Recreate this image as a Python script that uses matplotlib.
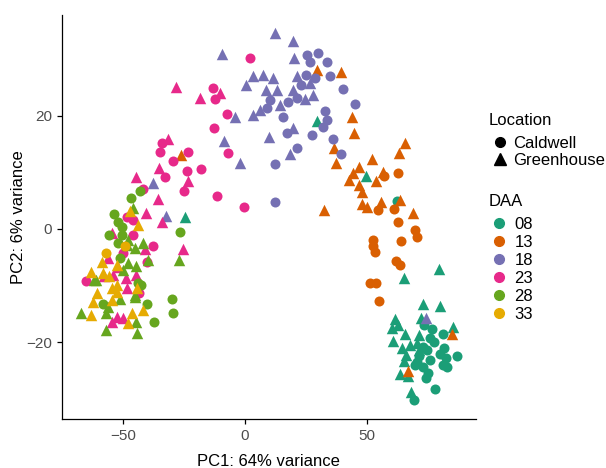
import matplotlib
matplotlib.use("Agg")
import matplotlib.pyplot as plt
from matplotlib.lines import Line2D

plt.rcParams['font.family'] = ['Liberation Sans', 'DejaVu Sans']

# PCA scores, (PC1, PC2), split by DAA and location
d08_cald = [(62.2, 5.0), (76.8, -17.7), (81.3, -18.5), (75.8, -19.3), (72.8, -20.8), (81.6, -21.1),
            (79.9, -22.1), (82.4, -22.8), (86.8, -22.5), (75.8, -23.1), (71.4, -22.5), (69.7, -24.1),
            (81.0, -24.1), (82.9, -24.4), (75.1, -25.4), (74.2, -26.3), (78.0, -28.4), (69.3, -30.3),
            (70.6, -23.5), (74.5, -21.4), (73.5, -17.0), (77.5, -20.0), (73.0, -24.5)]
d08_green = [(29.4, 19.1), (49.5, 9.3), (79.6, -7.0), (65.2, -8.7), (-24.6, 2.2), (72.8, -13.3),
             (79.9, -13.7), (72.0, -15.8), (62.8, -17.0), (60.1, -17.6), (65.6, -18.6), (71.4, -18.8),
             (85.1, -17.4), (60.5, -19.9), (64.2, -21.1), (70.6, -20.1), (66.0, -22.3), (65.2, -23.3),
             (63.5, -25.7), (66.7, -26.0), (68.0, -28.8), (71.4, -21.4), (61.5, -16.0), (67.5, -20.5)]

d13_cald = [(62.6, 9.9), (57.0, 9.4), (54.4, 3.4), (61.2, 3.5), (62.8, 1.3), (69.7, -0.2), (70.6, -1.5),
            (63.8, -2.1), (52.6, -1.9), (52.3, -3.0), (53.3, -4.0), (61.8, -5.6), (63.5, -6.4),
            (51.2, -9.5), (53.7, -9.5), (54.9, -12.8)]
d13_green = [(29.4, 28.1), (39.3, 27.8), (44.0, 19.9), (44.7, 16.9), (65.6, 15.3), (63.2, 13.5),
             (36.6, 14.3), (37.3, 11.6), (51.9, 12.3), (46.8, 10.9), (44.4, 9.9), (42.8, 8.7),
             (56.7, 10.1), (53.7, 8.5), (46.8, 7.8), (47.8, 6.6), (47.8, 4.5), (49.9, 3.9), (55.6, 4.7),
             (63.5, 5.1), (68.7, 2.8), (32.4, 3.4), (-26.0, 13.1), (84.7, -18.5), (66.9, -25.1)]

d18_cald = [(25.3, 30.8), (30.0, 31.2), (26.6, 29.6), (33.5, 29.6), (25.0, 27.3), (28.7, 26.7),
            (34.8, 27.1), (22.8, 25.5), (40.0, 24.8), (10.2, 22.8), (17.7, 22.4), (21.2, 23.1),
            (8.9, 21.4), (45.1, 22.1), (15.4, 19.8), (32.8, 20.8), (33.5, 19.3), (31.8, 18.0),
            (27.3, 16.6), (17.1, 16.9), (35.9, 15.9), (21.4, 14.4), (39.2, 13.3), (12.3, 11.5),
            (12.3, 4.7)]
d18_green = [(12.3, 34.7), (19.5, 33.3), (-9.6, 30.9), (20.1, 30.2), (3.1, 27.1), (7.5, 27.3),
             (11.3, 26.7), (0.4, 25.5), (8.6, 24.6), (13.2, 24.6), (19.5, 24.6), (21.2, 27.0),
             (28.0, 23.7), (24.6, 23.0), (14.3, 21.9), (-4.1, 19.9), (3.4, 20.2), (6.1, 21.1),
             (19.8, 17.8), (10.0, 16.3), (-8.5, 15.6), (18.4, 13.2), (-2.0, 11.6), (-37.8, 8.1),
             (-32.4, 2.3), (26.6, 25.8), (74.2, -15.8)]

d23_cald = [(-13.2, 25.0), (-12.3, 23.0), (2.0, 30.3), (-7.5, 20.3), (-12.7, 17.9), (-6.8, 13.4),
            (-11.4, 5.9), (-0.4, 3.9), (-34.1, 15.2), (-34.8, 13.6), (-23.2, 13.6), (-29.4, 12.0),
            (-23.9, 10.3), (-18.0, 10.6), (-32.8, 9.2), (-24.9, 6.7), (-48.5, 2.2), (-45.8, 1.6),
            (-46.0, -1.1), (-41.7, 7.0), (-37.6, -3.0), (-40.3, -5.8), (-64.9, -9.2), (-43.3, -11.4),
            (-49.9, -4.2)]
d23_green = [(-28.4, 25.2), (-18.4, 23.2), (-10.2, 24.0), (-31.7, 15.9), (-35.2, 10.8), (-23.5, 8.5),
             (-35.8, 5.3), (-40.6, 2.9), (-44.7, 9.2), (-34.1, 1.2), (-54.6, -0.8), (-41.0, -3.6),
             (-25.3, -3.6), (-56.0, -5.2), (-51.9, -6.7), (-57.8, -8.4), (-54.0, -8.1), (-48.8, -8.7),
             (-44.7, -8.1), (-52.6, -15.5), (-49.9, -15.8), (-54.6, -16.4), (-48.5, -10.5)]

d28_cald = [(-46.7, 5.5), (-43.0, 6.7), (-53.7, 2.6), (-51.9, 1.3), (-50.5, 0.4), (-26.4, -0.5),
            (-55.6, -1.1), (-51.9, -2.5), (-42.7, -9.9), (-30.0, -12.4), (-29.4, -14.9), (-40.0, -13.3),
            (-37.3, -16.5), (-58.1, -13.2), (-43.7, -9.6), (-50.5, -1.1), (-51.2, -5.2)]
d28_green = [(-46.0, 3.7), (-26.9, -5.5), (-47.8, -1.9), (-41.7, -2.5), (-45.1, -3.4), (-39.6, -5.5),
             (-44.7, -6.5), (-60.8, -9.0), (-49.9, -7.3), (-51.2, -12.4), (-45.1, -12.0), (-67.3, -14.8),
             (-56.7, -14.9), (-56.7, -17.9), (-44.1, -18.4), (-44.7, -16.5), (-62.0, -9.0),
             (-45.0, -11.7), (-56.0, -13.8), (-48.5, -2.8), (-47.8, -6.1)]

d33_cald = [(-56.7, -4.2), (-49.0, -3.0)]
d33_green = [(-43.7, 0.7), (-47.1, 3.1), (-63.2, -7.6), (-58.7, -5.8), (-52.6, -6.4), (-60.5, -11.4),
             (-62.2, -12.9), (-54.6, -10.5), (-52.6, -11.1), (-44.1, -10.5), (-62.9, -15.2),
             (-46.4, -14.9), (-41.9, -14.3), (-47.8, -16.7), (-54.6, -12.6), (-52.6, -9.9),
             (-55.6, -8.4), (-58.1, -7.8)]

daa_labels = ['08', '13', '18', '23', '28', '33']
daa_colors = ['#1B9E77', '#D95F02', '#7570B3', '#E7298A', '#66A61E', '#E6AB02']
caldwell = [d08_cald, d13_cald, d18_cald, d23_cald, d28_cald, d33_cald]
greenhouse = [d08_green, d13_green, d18_green, d23_green, d28_green, d33_green]

fig = plt.figure(figsize=(6.06, 4.68), dpi=100)
ax = fig.add_axes([0.102, 0.105, 0.683, 0.864])

for pts_c, pts_g, col in zip(caldwell, greenhouse, daa_colors):
    ax.scatter([p[0] for p in pts_c], [p[1] for p in pts_c], s=52, marker='o',
               color=col, linewidths=0, zorder=3)
    ax.scatter([p[0] for p in pts_g], [p[1] for p in pts_g], s=68, marker='^',
               color=col, linewidths=0, zorder=3)

ax.set_xlim(-75, 94.5)
ax.set_ylim(-33.6, 37.95)
ax.set_xticks([-50, 0, 50])
ax.set_yticks([-20, 0, 20])
ax.set_yticklabels(['\u221220', '0', '20'])
ax.set_xticklabels(['\u221250', '0', '50'])
for side in ['top', 'right']:
    ax.spines[side].set_visible(False)
for side in ['left', 'bottom']:
    ax.spines[side].set_linewidth(0.9)
ax.tick_params(direction='out', length=3.5, width=0.9, labelsize=11, labelcolor='#4D4D4D')
ax.set_xlabel('PC1: 64% variance', fontsize=12, labelpad=8)
ax.set_ylabel('PC2: 6% variance', fontsize=12, labelpad=0)

# legends
loc_handles = [Line2D([], [], marker='o', color='black', linestyle='', markersize=7),
               Line2D([], [], marker='^', color='black', linestyle='', markersize=8)]
leg1 = ax.legend(loc_handles, ['Caldwell', 'Greenhouse'], title='Location',
                 loc='upper left', bbox_to_anchor=(0.806, 0.758), bbox_transform=fig.transFigure,
                 frameon=False, fontsize=12, title_fontsize=12, handlelength=1.4,
                 handletextpad=0.1, labelspacing=0.15, borderaxespad=0, borderpad=0)
leg1._legend_box.align = 'left'
leg1._legend_box.sep = 5.3
ax.add_artist(leg1)

daa_handles = [Line2D([], [], marker='o', color=c, linestyle='', markersize=7) for c in daa_colors]
leg2 = ax.legend(daa_handles, daa_labels, title='DAA',
                 loc='upper left', bbox_to_anchor=(0.806, 0.585), bbox_transform=fig.transFigure,
                 frameon=False, fontsize=12, title_fontsize=12, handlelength=1.3,
                 handletextpad=0.25, labelspacing=0.18, borderaxespad=0, borderpad=0)
leg2._legend_box.align = 'left'
leg2._legend_box.sep = 5.6

fig.savefig('out.png', dpi=100)
